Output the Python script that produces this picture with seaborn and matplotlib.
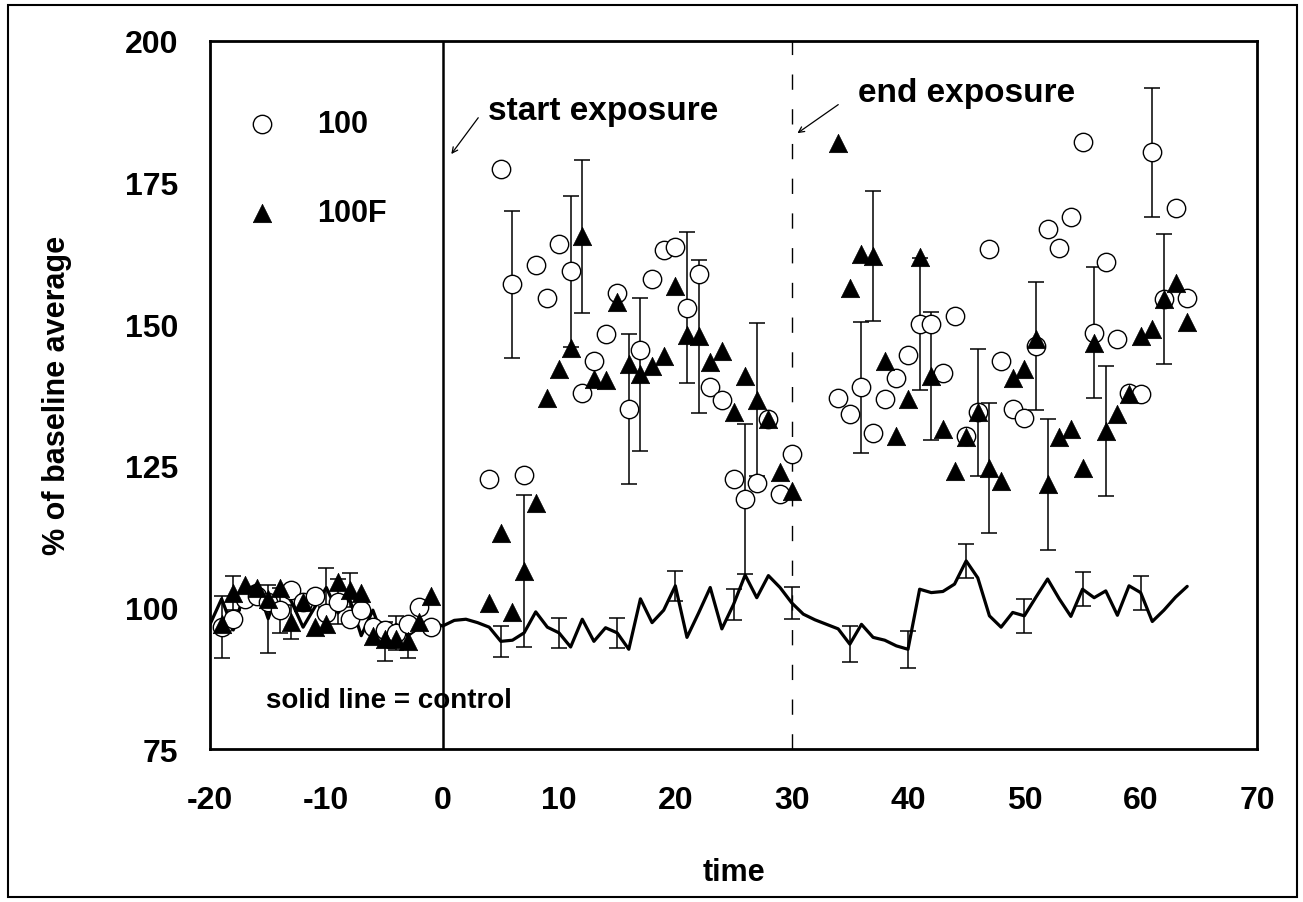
import numpy as np
import matplotlib
matplotlib.use("Agg")
import matplotlib.pyplot as plt
from matplotlib.patches import Rectangle
import seaborn as sns

# --- data ---
# group "100" (open circles)
t_100 = list(range(-19, 0)) + list(range(4, 31)) + list(range(34, 65))
y_100 = [96.5, 98.0, 101.5, 102.0, 101.0, 99.5, 103.0, 101.0, 102.0, 99.0,
         101.0, 98.0, 99.5, 96.5, 96.0, 95.5, 97.0, 100.0, 96.5,
         122.7, 177.4, 157.0, 123.3, 160.4, 154.6, 164.2, 159.3, 137.9, 143.5,
         148.2, 155.5, 135.0, 145.5, 158.0, 163.0, 163.6, 152.9, 158.9, 138.9,
         136.6, 122.6, 119.1, 122.0, 133.3, 120.0, 127.0,
         137.0, 134.1, 138.8, 130.8, 136.7, 140.5, 144.5, 150.0, 150.0, 141.3,
         151.4, 130.3, 134.4, 163.2, 143.5, 135.0, 133.5, 146.1, 166.8, 163.4,
         168.9, 182.2, 148.5, 160.9, 147.3, 137.9, 137.6, 180.3, 154.4, 170.5,
         154.6]
err_100 = {-19: 5.5, -14: 4.0, -9: 4.0, -4: 3.0, 6: 13.0, 11: 13.3, 16: 13.3,
           21: 13.3, 26: 13.2, 36: 11.5, 41: 11.6, 46: 11.2, 51: 11.3,
           56: 11.5, 61: 11.4}

# group "100F" (filled triangles)
t_100F = list(range(-19, 0)) + list(range(4, 31)) + list(range(34, 65))
y_100F = [97.0, 102.5, 104.0, 103.5, 101.5, 103.5, 97.5, 101.0, 96.5, 97.0,
          104.5, 103.0, 102.5, 95.0, 94.5, 94.5, 94.0, 97.5, 102.0,
          100.8, 113.2, 99.1, 106.4, 118.5, 137.0, 142.0, 145.8, 165.5, 140.3,
          140.1, 153.8, 142.9, 141.1, 142.6, 144.4, 156.7, 148.0, 147.8, 143.3,
          145.2, 134.5, 140.8, 136.6, 133.2, 123.8, 120.5,
          182.0, 156.4, 162.3, 162.0, 143.5, 130.3, 136.7, 161.8, 140.8, 131.4,
          124.0, 130.0, 134.4, 124.6, 122.3, 140.5, 142.0, 147.3, 121.7, 130.0,
          131.4, 124.6, 146.7, 131.1, 134.1, 137.6, 147.9, 149.1, 154.4, 157.3,
          150.3]
err_100F = {-18: 3.0, -13: 3.0, -8: 3.0, -3: 3.0, 7: 13.4, 12: 13.5, 17: 13.5,
            22: 13.5, 27: 13.5, 37: 11.5, 42: 11.3, 47: 11.5, 52: 11.5,
            57: 11.5, 62: 11.5}

# control (solid line)
t_ctrl = list(range(-20, 65))
y_ctrl = [97.0, 101.5, 96.0, 103.0, 104.0, 98.0, 104.0, 101.0, 96.5, 100.0,
          103.5, 99.0, 101.5, 95.0, 99.5, 94.0, 97.0, 95.0, 96.5, 97.5, 96.7,
          97.7, 97.9, 97.3, 96.5, 94.0, 94.2, 95.5, 99.2, 96.5, 95.5,
          93.0, 97.9, 94.0, 96.4, 95.5, 92.6, 101.5, 97.3, 99.5, 103.8,
          94.7, 99.0, 103.5, 96.2, 100.5, 105.7, 101.7, 105.6, 103.5, 100.8,
          98.8, 97.8, 97.0, 96.2, 93.5, 97.0, 94.7, 94.2, 93.2, 92.6,
          103.2, 102.6, 102.8, 104.1, 108.2, 105.2, 98.5, 96.5, 99.1, 98.5,
          101.8, 105.0, 101.5, 98.4, 103.2, 101.7, 102.9, 98.6, 103.8, 102.6,
          97.5, 99.5, 101.8, 103.7]
err_ctrl = {-15: 6.0, -10: 3.5, -5: 3.5, 5: 2.7, 10: 2.6, 15: 2.7, 20: 2.6,
            25: 2.7, 30: 2.8, 35: 3.2, 40: 3.3, 45: 3.0, 50: 3.0, 55: 3.0,
            60: 3.0}

x_ticks = [-20, -10, 0, 10, 20, 30, 40, 50, 60, 70]
y_ticks = [75, 100, 125, 150, 175, 200]

# --- style ---
sns.set_style("white")
plt.rcParams["font.family"] = ["Liberation Sans", "DejaVu Sans"]
plt.rcParams["font.weight"] = "bold"
plt.rcParams["axes.labelweight"] = "bold"
plt.rcParams["axes.unicode_minus"] = False
plt.rcParams["text.color"] = "black"
plt.rcParams["axes.labelcolor"] = "black"
plt.rcParams["xtick.color"] = "black"
plt.rcParams["ytick.color"] = "black"

fig, ax = plt.subplots(figsize=(13.03, 9.03), dpi=100)
fig.subplots_adjust(left=210 / 1303, right=1257 / 1303,
                    bottom=1 - 750 / 903, top=1 - 41.7 / 903)


def draw_errbars(t, y, err, zorder):
    lookup = dict(zip(t, y))
    xs = [k for k in err]
    ax.errorbar(xs, [lookup[k] for k in xs], yerr=[err[k] for k in xs],
                fmt="none", ecolor="black", elinewidth=1.1, capsize=6,
                capthick=1.1, zorder=zorder)


# exposure markers
ax.axvline(0, color="black", lw=1.8, zorder=1)
ax.axvline(30, color="black", lw=1.0, dashes=(11, 14), zorder=1)

sns.lineplot(x=t_ctrl, y=y_ctrl, color="black", lw=2.3, ax=ax, zorder=2,
             errorbar=None)
draw_errbars(t_ctrl, y_ctrl, err_ctrl, 2)
draw_errbars(t_100, y_100, err_100, 3)
draw_errbars(t_100F, y_100F, err_100F, 3)

sns.scatterplot(x=t_100, y=y_100, marker="o", s=175, color="white",
                edgecolor="black", linewidth=1.0, label="100", ax=ax, zorder=4)
sns.scatterplot(x=t_100F, y=y_100F, marker="^", s=175, color="black",
                edgecolor="black", linewidth=0.5, label="100F", ax=ax, zorder=5)

ax.set_xlim(-20, 70)
ax.set_ylim(75, 200)
ax.set_xticks(x_ticks)
ax.set_yticks(y_ticks)
ax.tick_params(axis="both", direction="in", length=12, width=1.6,
               labelsize=23, color="black", labelcolor="black")
ax.tick_params(axis="x", pad=26)
ax.tick_params(axis="y", pad=23)
for side in ["left", "right", "top", "bottom"]:
    ax.spines[side].set_linewidth(2.0)
    ax.spines[side].set_color("black")

ax.set_xlabel("time", fontsize=22, labelpad=30)
ax.set_ylabel("% of baseline average", fontsize=22, labelpad=38)

# annotations
ax.text(3.87, 186.1, "start exposure", fontsize=24, fontweight="bold",
        ha="left", va="baseline")
ax.annotate("", xy=(0.6, 179.6), xytext=(3.2, 186.8),
            arrowprops=dict(arrowstyle="->", lw=0.9, color="black"))
ax.text(35.7, 189.3, "end exposure", fontsize=24, fontweight="bold",
        ha="left", va="baseline")
ax.annotate("", xy=(30.3, 183.4), xytext=(34.2, 189.0),
            arrowprops=dict(arrowstyle="->", lw=0.9, color="black"))
ax.text(-15.16, 82.4, "solid line = control", fontsize=20, fontweight="bold",
        ha="left", va="baseline")

leg = ax.legend(loc="upper left", bbox_to_anchor=(0.035, 0.904), frameon=False,
                fontsize=22, handlelength=1.0, handletextpad=1.3,
                labelspacing=1.95, borderpad=0, borderaxespad=0,
                scatterpoints=1)
for txt in leg.get_texts():
    txt.set_color("black")

# outer frame around the whole figure
fig.patches.append(Rectangle((8 / 1303, 1 - 898 / 903), 1289 / 1303, 892 / 903,
                             transform=fig.transFigure, fill=False,
                             edgecolor="black", lw=1.5))

fig.savefig("out.png", dpi=100)
